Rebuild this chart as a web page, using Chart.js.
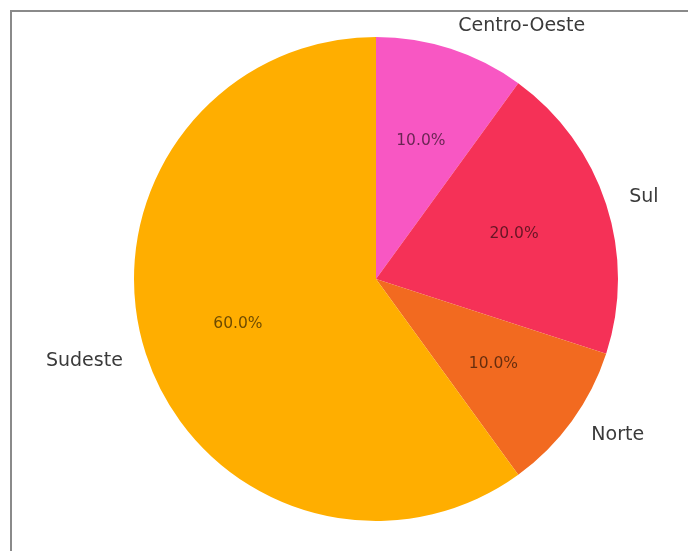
<!DOCTYPE html>
<html>
<head>
<meta charset="utf-8">
<script src="https://cdn.jsdelivr.net/npm/chart.js@4/dist/chart.umd.min.js"></script>
<style>
  html, body { margin: 0; padding: 0; background: #fff; }
  .wrap { position: relative; width: 688px; height: 551px; overflow: hidden; }
  .frame { position: absolute; left: 10px; top: 10px; width: 700px; height: 560px;
           border-left: 2px solid #8a8a8a; border-top: 2px solid #8a8a8a; pointer-events: none; }
  canvas { position: absolute; left: 0; top: 0; }
</style>
</head>
<body>
<div class="wrap">
  <canvas id="pie" width="688" height="551"></canvas>
  <div class="frame"></div>
</div>
<script>
// regions, clockwise from 12 o'clock
const regions = ['Centro-Oeste', 'Sul', 'Norte', 'Sudeste'];
const shares = [10, 20, 10, 60];
const colors = ['#f857c3', '#f53157', '#f26a20', '#ffae00'];

const labelFont = '19px "DejaVu Sans", sans-serif';
const pctFont = '15.5px "DejaVu Sans", sans-serif';

// draws outside names and inside percentages from the arcs Chart.js computed
const pieLabels = {
  id: 'pieLabels',
  afterDatasetsDraw(chart) {
    const { ctx } = chart;
    const meta = chart.getDatasetMeta(0);
    const total = shares.reduce((s, v) => s + v, 0);
    meta.data.forEach((arc, i) => {
      const { x, y, startAngle, endAngle, outerRadius } = arc.getProps(['x', 'y', 'startAngle', 'endAngle', 'outerRadius'], true);
      const mid = (startAngle + endAngle) / 2;
      const cx = Math.cos(mid), cy = Math.sin(mid);

      ctx.save();
      ctx.textBaseline = 'middle';
      // percentage
      ctx.font = pctFont;
      ctx.fillStyle = 'rgba(0,0,0,0.58)';
      ctx.textAlign = 'center';
      const pct = (shares[i] / total * 100).toFixed(1) + '%';
      ctx.fillText(pct, x + cx * outerRadius * 0.6, y + cy * outerRadius * 0.6);
      // name
      ctx.font = labelFont;
      ctx.fillStyle = '#3a3a3a';
      ctx.textAlign = cx >= 0 ? 'left' : 'right';
      ctx.fillText(regions[i], x + cx * outerRadius * 1.1, y + cy * outerRadius * 1.1);
      ctx.restore();
    });
  },
};

new Chart(document.getElementById('pie'), {
  type: 'pie',
  data: {
    labels: regions,
    datasets: [{
      data: shares,
      backgroundColor: colors,
      borderWidth: 0,
      hoverOffset: 0,
    }],
  },
  options: {
    responsive: false,
    animation: false,
    layout: { padding: { left: 134, right: 70, top: 37, bottom: 30 } },
    plugins: {
      legend: { display: false },
      tooltip: { enabled: false },
    },
  },
  plugins: [pieLabels],
});
</script>
</body>
</html>
